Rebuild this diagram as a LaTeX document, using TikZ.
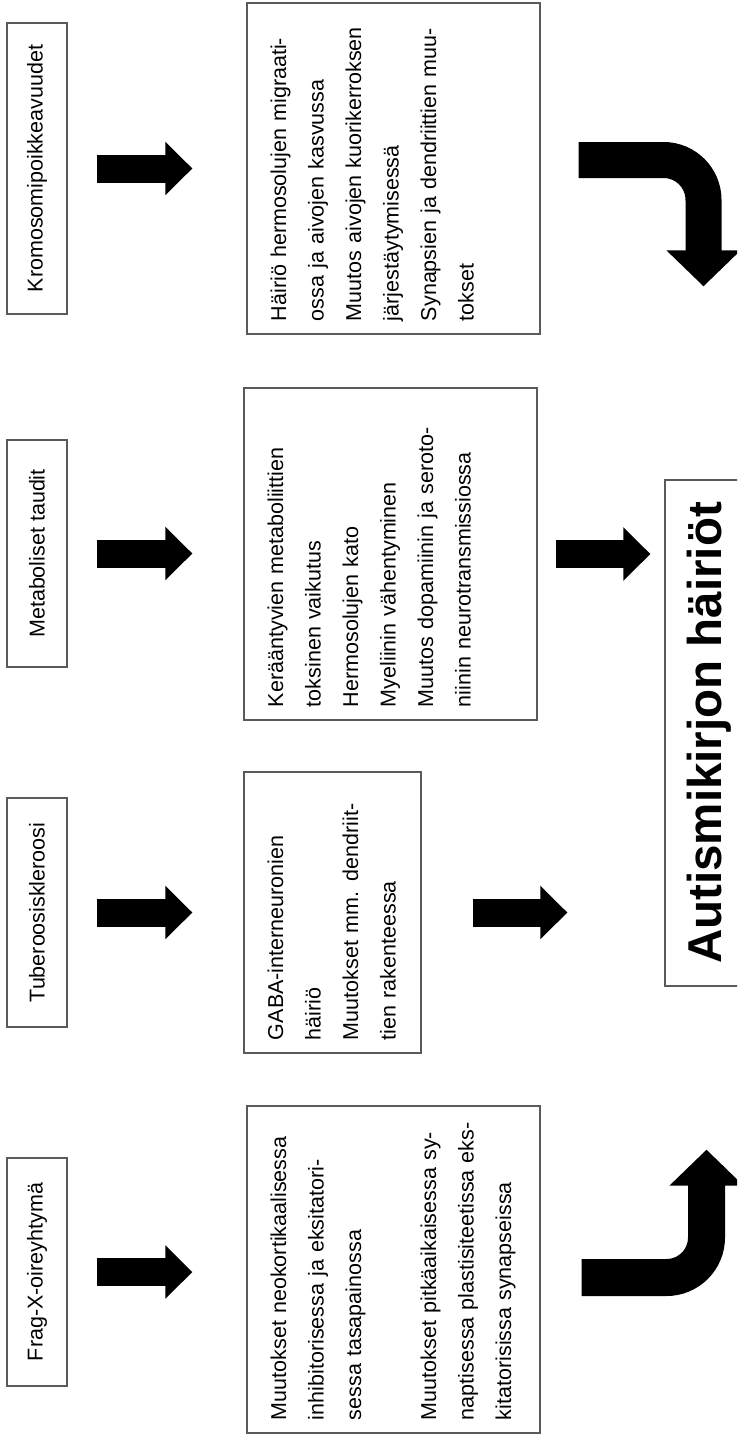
\documentclass[tikz,border=0pt]{standalone}
\usepackage{fontspec}
\setmainfont{Liberation Sans}
\usepackage{xcolor}
\usepackage{tikz}
\usetikzlibrary{arrows.meta,calc}
\definecolor{boxline}{HTML}{5A5A5A}
\newcommand{\boxfont}{\fontsize{21.5pt}{37.5pt}\selectfont}
\newcommand{\autfont}{\fontsize{47.5pt}{56pt}\selectfont\bfseries}
\tikzset{
  vsrc/.style={draw=boxline,line width=1.3pt,rotate=90,minimum height=60pt,inner sep=0pt,font=\boxfont},
  veff/.style={draw=boxline,line width=1.3pt,rotate=90,align=left,inner xsep=13pt,inner ysep=0pt,text height=39pt,font=\boxfont},
  vaut/.style={draw=boxline,line width=1.3pt,rotate=90,minimum width=506pt,minimum height=89pt,inner sep=0pt,font=\autfont},
  varr/.style={-{Triangle[length=27pt,width=52pt]},line width=28pt},
  vbend/.style={-{Triangle[length=36pt,width=72pt]},line width=36pt,rounded corners=40pt}
}

\begin{document}
\begin{tikzpicture}[x=1pt,y=-1pt]
  \useasboundingbox (0,0) rectangle (737,1437);
  \clip (0,0) rectangle (737,1437);
  % causes
  \node[vsrc,minimum width=291pt] (krom) at (37,168.5) {Kromosomipoikkeavuudet};
  \node[vsrc,minimum width=227pt] (meta) at (37,553.5) {Metaboliset taudit};
  \node[vsrc,minimum width=229pt] (tube) at (37,912.5) {Tuberoosiskleroosi};
  \node[vsrc,minimum width=228pt] (frag) at (37,1272) {Frag-X-oireyhtymä};
  % effects
  \node[veff,text width=305pt,text depth=254pt] (hair) at (393.5,168.5) {Häiriö hermosolujen migraati-\\ossa ja aivojen kasvussa\\Muutos aivojen kuorikerroksen\\järjestäytymisessä\\Synapsien ja dendriittien muu-\\tokset};
  \node[veff,text width=306pt,text depth=254pt] (kera) at (390.5,554) {Kerääntyvien metaboliittien\\toksinen vaikutus\\Hermosolujen kato\\Myeliinin vähentyminen\\Muutos dopamiinin ja seroto-\\niinin neurotransmissiossa};
  \node[veff,text width=255pt,text depth=138pt] (gaba) at (332.5,912.5) {GABA-interneuronien\\häiriö\\Muutokset mm. dendriit-\\tien rakenteessa};
  \node[veff,text width=301pt,text depth=254pt] (fmuu) at (393.5,1269.5) {Muutokset neokortikaalisessa\\inhibitorisessa ja eksitatori-\\sessa tasapainossa\\[37.5pt]Muutokset pitkäaikaisessa sy-\\naptisessa plastisiteetissa eks-\\kitatorisissa synapseissa};
  % result
  \node[vaut] (aut) at (709.5,733) {Autismikirjon häiriöt};
  % arrows
  \draw[varr,shorten <=29pt,shorten >=54pt] (krom.south) -- (krom.south -| hair.north);
  \draw[varr,shorten <=29pt,shorten >=51pt] (meta.south) -- (meta.south -| kera.north);
  \draw[varr,shorten <=29pt,shorten >=51pt] (tube.south) -- (tube.south -| gaba.north);
  \draw[varr,shorten <=29pt,shorten >=54pt] (frag.south) -- (frag.south -| fmuu.north);
  \draw[varr,shorten <=18pt,shorten >=14pt] (kera.south) -- (kera.south -| aut.north);
  \draw[varr,shorten <=51pt,shorten >=97pt] (gaba.south) -- (gaba.south -| aut.north);
  \draw[vbend] ([xshift=38pt,yshift=8.5pt]hair.south) -| ([xshift=-6pt,yshift=193pt]aut.east);
  \draw[vbend,line width=37pt] ([xshift=41pt,yshift=-8pt]fmuu.south) -| ([xshift=-3pt,yshift=-163pt]aut.west);
\end{tikzpicture}
\end{document}
